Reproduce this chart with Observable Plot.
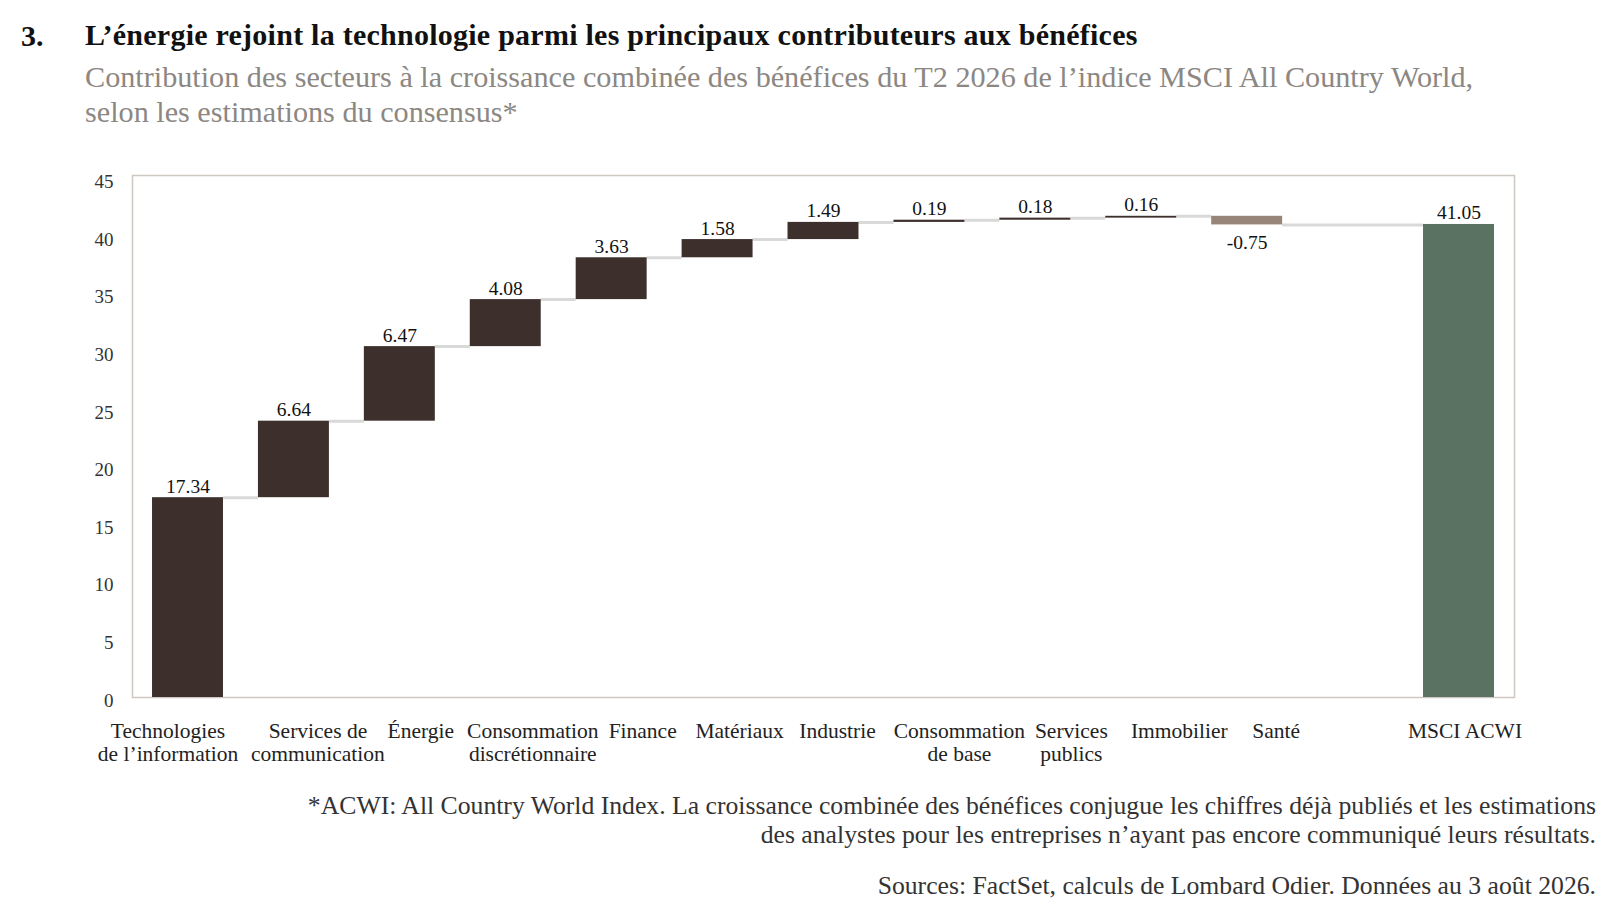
<!DOCTYPE html>
<html lang="fr">
<head>
<meta charset="utf-8">
<script src="https://cdn.jsdelivr.net/npm/d3@7"></script>
<script src="https://cdn.jsdelivr.net/npm/@observablehq/plot@0.6"></script>
<style>
  html, body { margin: 0; padding: 0; background: #fff; }
  #page { position: relative; width: 1619px; height: 915px; overflow: hidden; font-family: "Liberation Serif", "DejaVu Serif", serif; }
  .num { position: absolute; left: 21px; top: 18px; font-size: 30px; line-height: 36px; font-weight: bold; color: #111; }
  .title { position: absolute; left: 85px; top: 17px; font-size: 30px; line-height: 36px; font-weight: bold; color: #111; white-space: nowrap; letter-spacing: 0.25px; }
  .subtitle { position: absolute; left: 85px; top: 60px; font-size: 30.2px; line-height: 35px; color: #8c8782; white-space: nowrap; }
  #chart { position: absolute; left: 0; top: 150px; }
  .note { position: absolute; right: 23px; top: 791px; font-size: 25.7px; line-height: 29px; color: #333; text-align: right; white-space: nowrap; }
  .source { position: absolute; right: 23px; top: 871px; font-size: 25.7px; line-height: 29px; color: #333; text-align: right; white-space: nowrap; }
</style>
</head>
<body>
<div id="page">
  <div class="num">3.</div>
  <div class="title">L’énergie rejoint la technologie parmi les principaux contributeurs aux bénéfices</div>
  <div class="subtitle">Contribution des secteurs à la croissance combinée des bénéfices du T2 2026 de l’indice MSCI All Country World,<br>selon les estimations du consensus*</div>
  <div id="chart"></div>
  <div class="note">*ACWI: All Country World Index. La croissance combinée des bénéfices conjugue les chiffres déjà publiés et les estimations<br>des analystes pour les entreprises n’ayant pas encore communiqué leurs résultats.</div>
  <div class="source">Sources: FactSet, calculs de Lombard Odier. Données au 3 août 2026.</div>
</div>
<script>
// ---- Data ----
const sectors = [
  "Technologies\nde l’information",
  "Services de\ncommunication",
  "Énergie",
  "Consommation\ndiscrétionnaire",
  "Finance",
  "Matériaux",
  "Industrie",
  "Consommation\nde base",
  "Services\npublics",
  "Immobilier",
  "Santé"
];
const contributions = [17.34, 6.64, 6.47, 4.08, 3.63, 1.58, 1.49, 0.19, 0.18, 0.16, -0.75];
const totalLabel = "MSCI ACWI";
const totalValue = 41.05;
const yTicks = [0, 5, 10, 15, 20, 25, 30, 35, 40, 45];

// ---- Layout / style ----
const halfBar = 0.335;            // half bar width in slot units
const gapSlots = 1;               // empty slot before the total
const labelNudge = [-20, 24, 21, 27, 31, 22, 14, 30, 36, 38, 29, 6]; // px shift of category labels
const colors = {up: "#3c2f2c", down: "#978579", total: "#5a7262"};

// ---- Build waterfall rows ----
const rows = [];
let cum = 0;
contributions.forEach((v, i) => {
  rows.push({name: sectors[i], slot: i, start: cum, end: cum + v, value: v, kind: v >= 0 ? "up" : "down"});
  cum += v;
});
rows.push({name: totalLabel, slot: sectors.length + gapSlots, start: 0, end: totalValue, value: totalValue, kind: "total"});

const links = rows.slice(0, -1).map((r, i) => ({
  x1: r.slot + halfBar,
  x2: rows[i + 1].slot - halfBar,
  y: r.end
}));

const lastSlot = rows[rows.length - 1].slot;
const outer = 0.524;

const labelMarks = rows.map((r, i) => Plot.text([r], {
  x: "slot", y: () => 0, text: "name",
  dx: labelNudge[i], dy: 24, lineAnchor: "top", fontSize: 21.5, lineHeight: 1.07,
  fill: "#222"
}));

const chart = Plot.plot({
  width: 1619,
  height: 620,
  marginLeft: 132,
  marginRight: 105,
  marginTop: 25,
  marginBottom: 73,
  style: {fontFamily: "Liberation Serif, DejaVu Serif, serif", fontSize: "18px", color: "#333", background: "#fff"},
  x: {type: "linear", domain: [-outer, lastSlot + outer], axis: null},
  y: {domain: [0, 45.3], axis: null},
  marks: [
    Plot.frame({stroke: "#cdc8c2", strokeWidth: 1.5}),
    Plot.axisY({ticks: yTicks, tickSize: 0, tickPadding: 19, fontSize: 19, dy: 3, fill: "#333"}),
    Plot.ruleY(links, {x1: "x1", x2: "x2", y: "y", stroke: "#d9d9d9", strokeWidth: 3}),
    Plot.rectY(rows, {
      x1: d => d.slot - halfBar, x2: d => d.slot + halfBar,
      y1: "start", y2: "end",
      fill: d => colors[d.kind]
    }),
    Plot.text(rows.filter(d => d.value >= 0), {
      x: "slot", y: d => Math.max(d.start, d.end), text: d => d.value.toFixed(2),
      lineAnchor: "bottom", dy: -5, fontSize: 19.5, fill: "#111"
    }),
    Plot.text(rows.filter(d => d.value < 0), {
      x: "slot", y: d => Math.min(d.start, d.end), text: d => d.value.toFixed(2),
      lineAnchor: "top", dy: 10, fontSize: 19.5, fill: "#111"
    }),
    ...labelMarks
  ]
});
document.getElementById("chart").appendChild(chart);
</script>
</body>
</html>
